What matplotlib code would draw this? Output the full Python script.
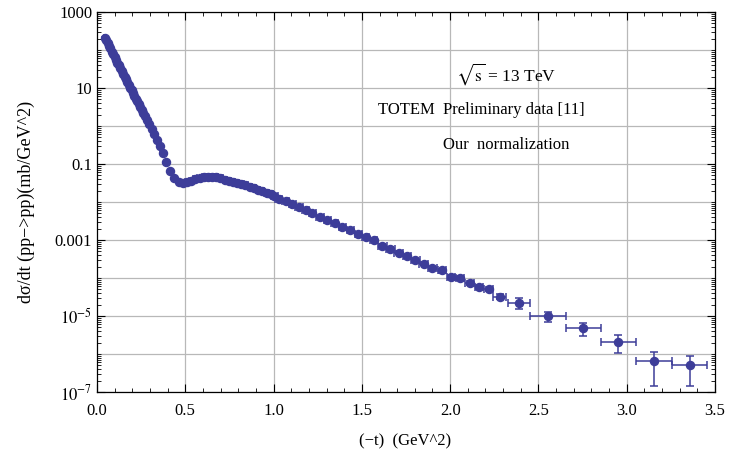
import numpy as np
import matplotlib
matplotlib.use("Agg")
import matplotlib.pyplot as plt
from matplotlib.ticker import FixedLocator, NullFormatter

plt.rcParams['font.family'] = ['Liberation Serif', 'DejaVu Serif']
plt.rcParams['mathtext.fontset'] = 'stix'

# |t| values (GeV^2)
t = [0.045, 0.052, 0.060, 0.068, 0.076, 0.084, 0.092, 0.100, 0.108, 0.116,
     0.124, 0.132, 0.140, 0.148, 0.156, 0.164, 0.172, 0.180, 0.188, 0.196,
     0.204, 0.212, 0.220, 0.228, 0.236, 0.244, 0.253, 0.263, 0.273, 0.284,
     0.296, 0.310, 0.325, 0.340, 0.355, 0.372, 0.393, 0.415, 0.438, 0.462,
     0.487, 0.510, 0.532, 0.557, 0.581, 0.604, 0.629, 0.652, 0.676, 0.699,
     0.723, 0.746, 0.771, 0.794, 0.818, 0.841, 0.865, 0.888, 0.913, 0.936,
     0.960, 0.983, 1.005, 1.030, 1.068, 1.106, 1.144, 1.182, 1.220, 1.263,
     1.305, 1.347, 1.390, 1.434, 1.479, 1.523, 1.566, 1.616, 1.661, 1.708,
     1.756, 1.803, 1.850, 1.900, 1.953, 2.006, 2.057, 2.110, 2.163, 2.218,
     2.280, 2.390, 2.555, 2.754, 2.953, 3.155, 3.356]

# log10 of dsigma/dt (mb/GeV^2)
log_dsdt = [2.32, 2.26, 2.18, 2.11, 2.04, 1.96, 1.89, 1.82, 1.74, 1.67,
            1.60, 1.52, 1.45, 1.38, 1.30, 1.23, 1.16, 1.08, 1.01, 0.94,
            0.87, 0.79, 0.72, 0.65, 0.58, 0.50, 0.43, 0.34, 0.25, 0.15,
            0.04, -0.08, -0.22, -0.37, -0.52, -0.70, -0.95, -1.19, -1.37, -1.48,
            -1.51, -1.48, -1.44, -1.40, -1.37, -1.35, -1.34, -1.34, -1.355, -1.38,
            -1.41, -1.435, -1.47, -1.50, -1.53, -1.565, -1.60, -1.64, -1.68, -1.72,
            -1.76, -1.80, -1.85, -1.915, -1.98, -2.05, -2.13, -2.21, -2.30, -2.39,
            -2.48, -2.565, -2.645, -2.74, -2.83, -2.91, -2.99, -3.145, -3.23, -3.335,
            -3.425, -3.53, -3.62, -3.74, -3.80, -3.97, -3.995, -4.13, -4.24, -4.28,
            -4.49, -4.65, -5.005, -5.32, -5.68, -6.19, -6.28]

# half-width of the t bins
t_err = [0.004] * 40 + [0.012] * 22 + [0.02] * 15 + [0.024] * 13 + [0.035, 0.06, 0.1, 0.1, 0.1, 0.1, 0.1]

# relative uncertainty of dsigma/dt
rel_err = [0.03] * 62 + [0.05] * 15 + [0.08] * 7 + [0.12] * 6 + [0.15, 0.33, 0.28, 0.37, 0.49, 0.78, 0.72]

x_ticks = [0.0, 0.5, 1.0, 1.5, 2.0, 2.5, 3.0, 3.5]
y_ticks = [1e3, 1e1, 1e-1, 1e-3, 1e-5, 1e-7]
y_tick_labels = ["1000", "10", "0.1", "0.001", r"$10^{-5}$", r"$10^{-7}$"]

annotations = [r"$\sqrt{\mathrm{s}}$ = 13 TeV", "TOTEM  Preliminary data [11]", "Our  normalization"]

color = "#3D3D99"

fig = plt.figure(figsize=(7.34, 4.63), dpi=100)
ax = fig.add_axes([97 / 734, 1 - 392 / 463, 618 / 734, 380 / 463])

tt = np.array(t)
yy = 10 ** np.array(log_dsdt)
ye = yy * np.array(rel_err)
ax.errorbar(tt, yy, xerr=t_err, yerr=ye, fmt='o', color=color, ms=5.8,
            ecolor=color, elinewidth=1.1, capsize=3, capthick=1.1, alpha=1.0,
            zorder=3)

ax.set_yscale('log')
ax.set_xlim(0, 3.5)
ax.set_ylim(1e-7, 1e3)

# grid
for d in range(-7, 4):
    ax.axhline(10.0 ** d, color='#b8b8b8', lw=0.9, zorder=1)
for xv in x_ticks[1:-1]:
    ax.axvline(xv, color='#b8b8b8', lw=0.9, zorder=1)

ax.set_xticks(x_ticks)
ax.set_xticklabels([f"{v:.1f}" for v in x_ticks])
ax.xaxis.set_minor_locator(FixedLocator(np.arange(0, 3.51, 0.1)))
ax.set_yticks(y_ticks)
ax.set_yticklabels(y_tick_labels)
minor_y = []
for d in range(-7, 3):
    for s in range(1, 10):
        v = s * 10.0 ** d
        if s == 1 and d % 2 == 1:
            continue
        minor_y.append(v)
ax.yaxis.set_minor_locator(FixedLocator(minor_y))
ax.yaxis.set_minor_formatter(NullFormatter())

ax.tick_params(which='both', direction='in', top=True, right=True, labelsize=12, colors='black')
ax.tick_params(which='major', length=6, width=0.8)
ax.tick_params(which='minor', length=3, width=0.6)
ax.tick_params(axis='x', pad=8)
for sp in ax.spines.values():
    sp.set_linewidth(0.9)

ax.set_xlabel("(−t)  (GeV^2)", fontsize=12)
ax.xaxis.set_label_coords(0.498, -0.108)
ax.set_ylabel("dσ/dt (pp−>pp)(mb/GeV^2)", fontsize=13)
ax.yaxis.set_label_coords(-0.1, 0.5)

ax.text(2.318, 10 ** 1.355, annotations[0], ha='center', va='center', fontsize=12.5)
ax.text(2.176, 10 ** 0.434, annotations[1], ha='center', va='center', fontsize=12)
ax.text(2.318, 10 ** -0.487, annotations[2], ha='center', va='center', fontsize=12)

fig.savefig("out.png", dpi=100)
